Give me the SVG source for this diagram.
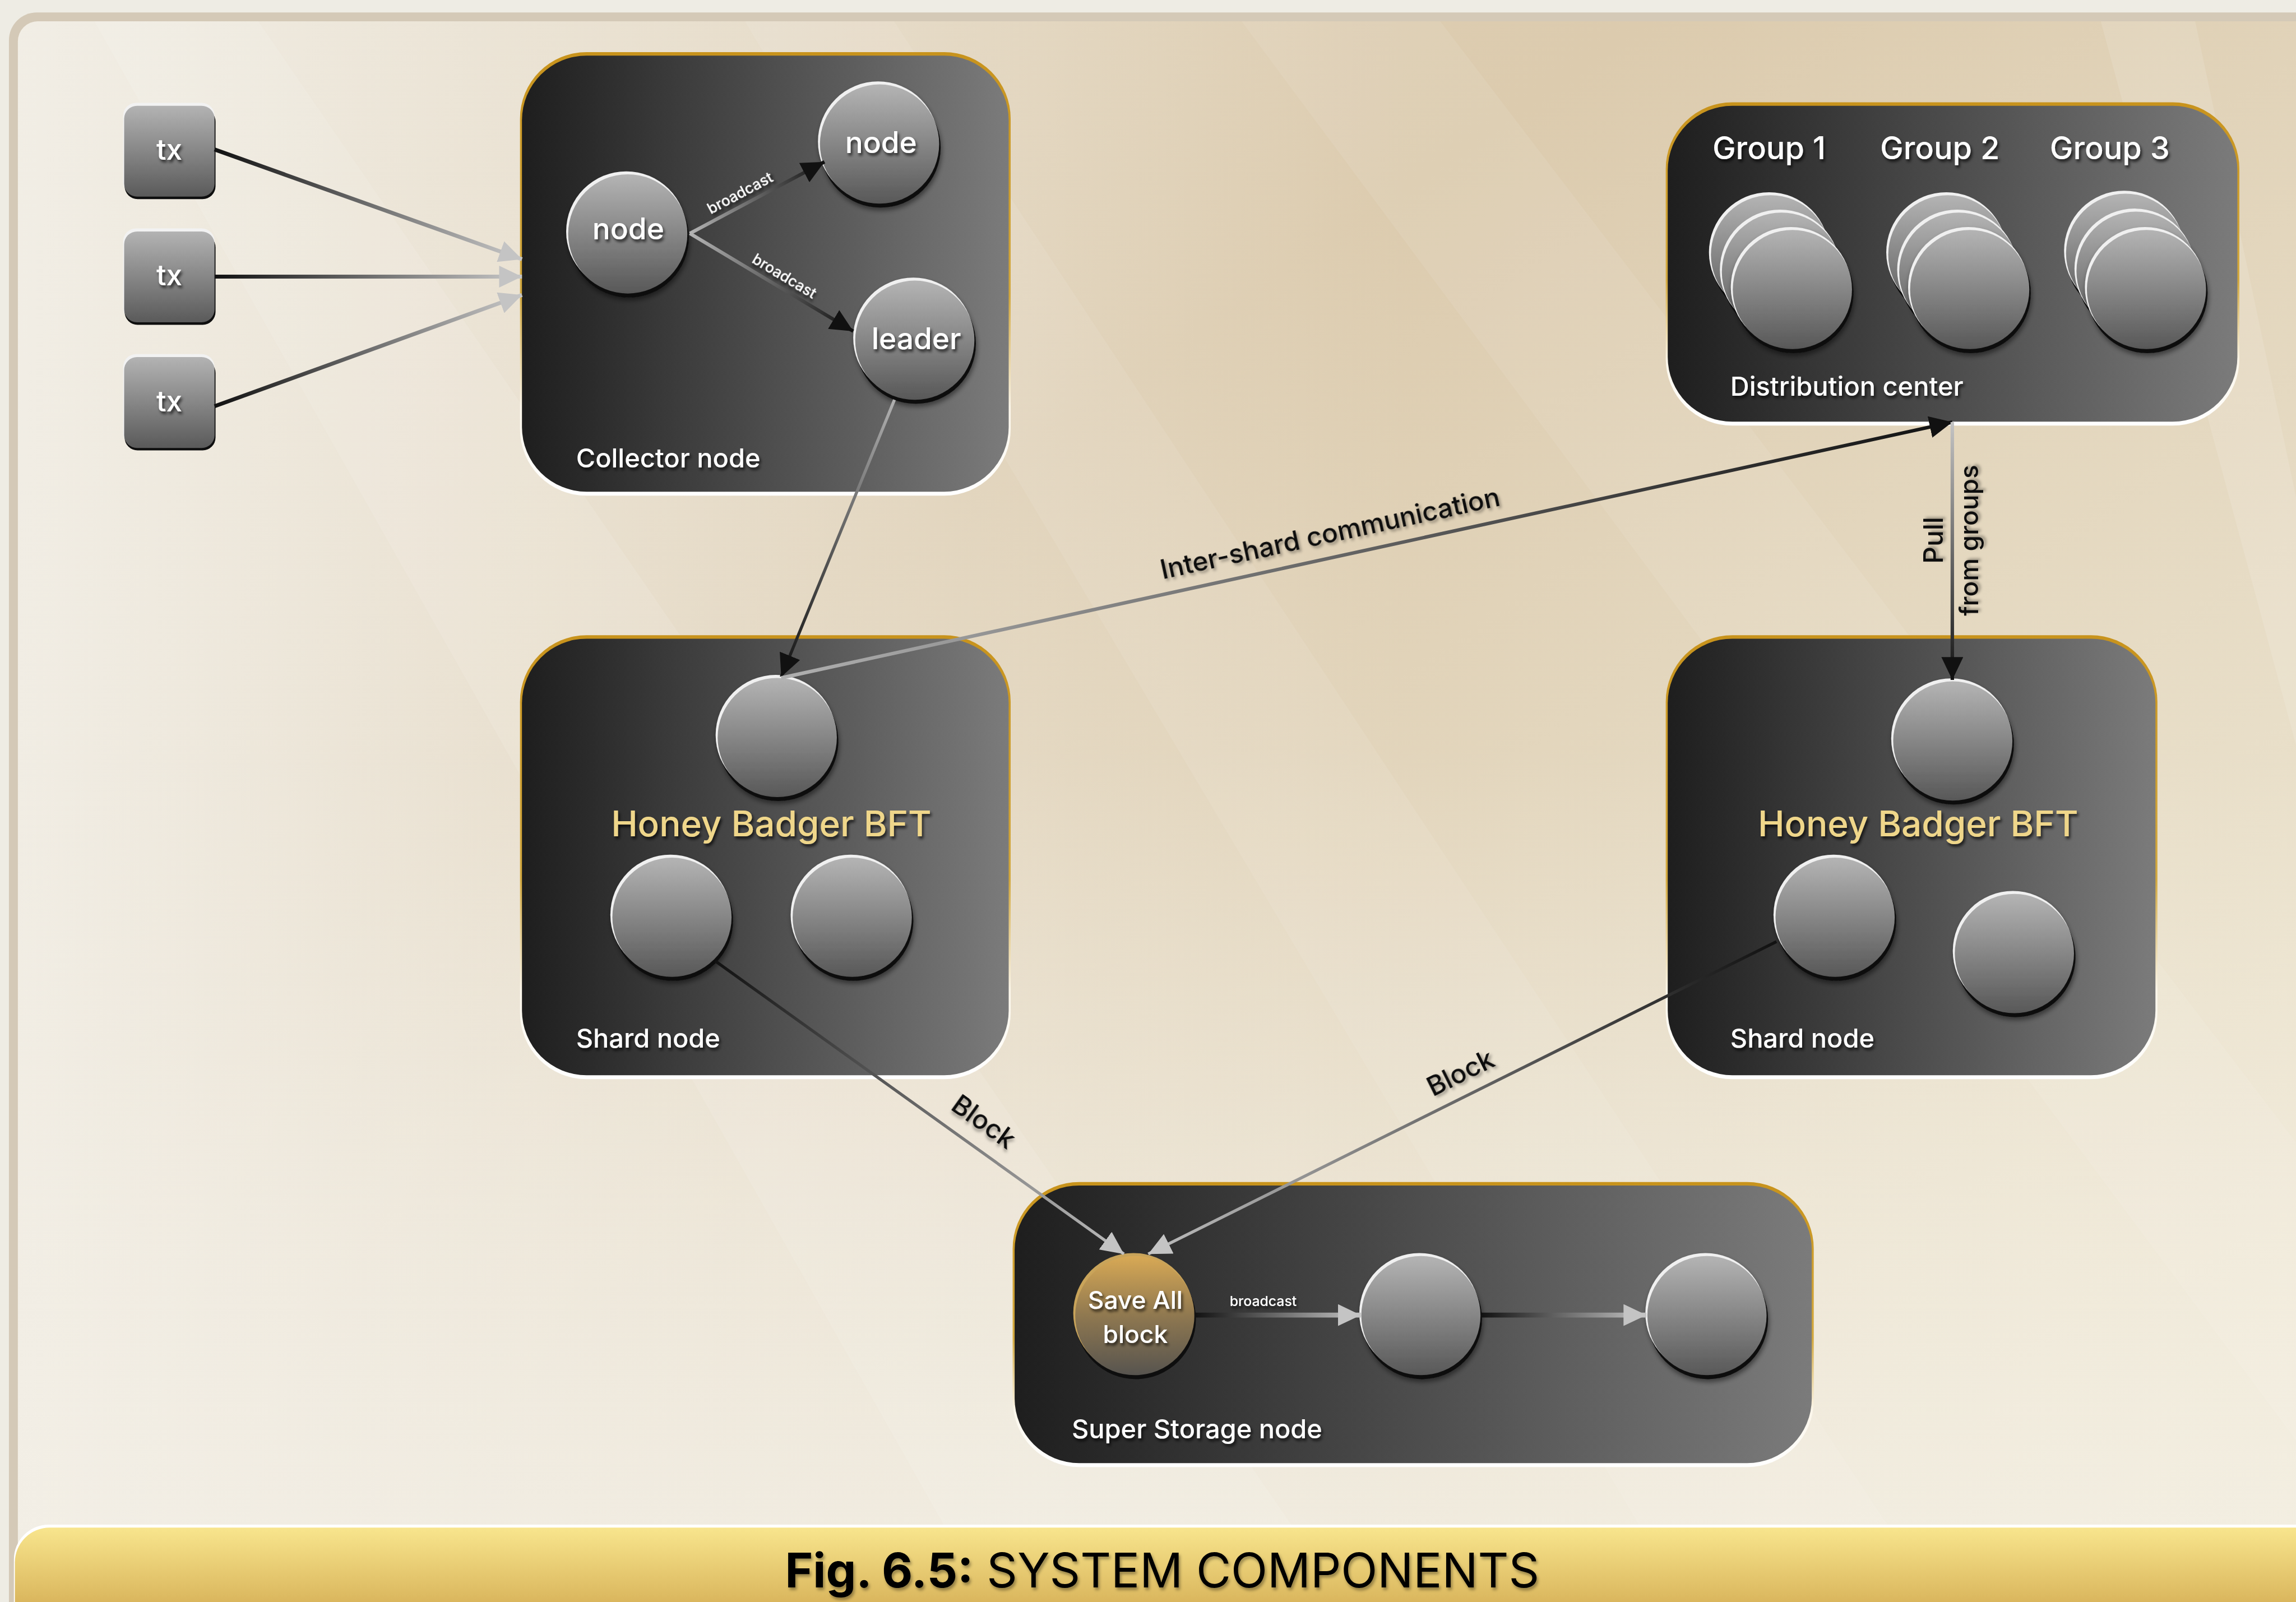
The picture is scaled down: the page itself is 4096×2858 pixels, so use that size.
<svg xmlns="http://www.w3.org/2000/svg" xmlns:xlink="http://www.w3.org/1999/xlink" width="4096" height="2858" viewBox="0 0 4096 2858">
<style>
.lbl{font-family:Inter,"Noto Sans","Liberation Sans",sans-serif;font-weight:500;fill:#fff;filter:url(#ts)}
.dark{font-family:Inter,"Noto Sans","Liberation Sans",sans-serif;font-weight:500;fill:#111;filter:url(#tsl)}
.honey{font-family:Inter,"Noto Sans","Liberation Sans",sans-serif;font-weight:500;fill:#efd68a;filter:url(#ts)}
.cap{font-family:Inter,"Noto Sans","Liberation Sans",sans-serif;fill:#000;filter:url(#tsl)}
.ln{fill:none;stroke-linecap:butt}
</style>
<defs>
<linearGradient id="bgGrad" x1="0" y1="0" x2="1" y2="1">
<stop offset="0" stop-color="#e2d5be"/>
<stop offset="0.35" stop-color="#dccbae"/>
<stop offset="0.7" stop-color="#e8dec8"/>
<stop offset="1" stop-color="#f4eed8"/>
</linearGradient>
<linearGradient id="bgLeft" x1="0" y1="0" x2="1" y2="0">
<stop offset="0" stop-color="#f4f2ec" stop-opacity="0.85"/>
<stop offset="0.35" stop-color="#f4f2ec" stop-opacity="0.35"/>
<stop offset="0.6" stop-color="#f4f2ec" stop-opacity="0"/>
</linearGradient>
<linearGradient id="bgBottom" x1="0" y1="0" x2="0" y2="1">
<stop offset="0" stop-color="#f3efe6" stop-opacity="0"/>
<stop offset="1" stop-color="#f3efe6" stop-opacity="0.7"/>
</linearGradient>
<linearGradient id="boxGrad" x1="0" y1="0" x2="1" y2="0">
<stop offset="0" stop-color="#1e1e1e"/>
<stop offset="1" stop-color="#7b7b7b"/>
</linearGradient>
<linearGradient id="rimGrad" x1="0" y1="0" x2="0" y2="1">
<stop offset="0" stop-color="#c8931c"/>
<stop offset="0.55" stop-color="#d2a83e"/>
<stop offset="0.8" stop-color="#fbf6ea"/>
<stop offset="1" stop-color="#ffffff"/>
</linearGradient>
<linearGradient id="ballGrad" x1="0" y1="0" x2="0" y2="1">
<stop offset="0" stop-color="#b4b4b4"/>
<stop offset="1" stop-color="#585858"/>
</linearGradient>
<linearGradient id="goldGrad" x1="0" y1="0" x2="0" y2="1">
<stop offset="0" stop-color="#d8a955"/>
<stop offset="0.5" stop-color="#8f7850"/>
<stop offset="1" stop-color="#57544f"/>
</linearGradient>
<linearGradient id="txGrad" x1="0" y1="0" x2="0" y2="1">
<stop offset="0" stop-color="#b3b3b3"/>
<stop offset="1" stop-color="#5a5a5a"/>
</linearGradient>
<linearGradient id="capGrad" x1="0" y1="0" x2="0" y2="1">
<stop offset="0" stop-color="#f8e58d"/>
<stop offset="0.45" stop-color="#ddbb62"/>
<stop offset="1" stop-color="#bb8030"/>
</linearGradient>
<filter id="ts" x="-20%" y="-50%" width="140%" height="200%">
<feDropShadow dx="3" dy="5" stdDeviation="3" flood-color="#000" flood-opacity="0.7"/>
</filter>
<filter id="tsl" x="-20%" y="-50%" width="140%" height="200%">
<feDropShadow dx="3" dy="5" stdDeviation="3" flood-color="#000" flood-opacity="0.35"/>
</filter>
<filter id="bs" x="-30%" y="-30%" width="160%" height="160%">
<feDropShadow dx="2" dy="6" stdDeviation="5" flood-color="#000" flood-opacity="0.45"/>
</filter>
<g id="ball">
<circle cx="2" cy="7" r="121" fill="#0e0e0e"/>
<circle cx="-3" cy="-5" r="121" fill="#f0f0f0"/>
<circle r="120" fill="url(#ballGrad)"/>
</g>
<g id="txbox">
<rect x="-2" y="-6" width="184" height="186" rx="26" fill="#f2f2f2"/>
<rect x="1" y="6" width="183" height="182" rx="26" fill="#0e0e0e"/>
<rect x="0" y="0" width="182" height="183" rx="26" fill="url(#txGrad)"/>
</g>
<marker id="ahD" viewBox="0 0 46 44" refX="46" refY="22" markerWidth="46" markerHeight="44" markerUnits="userSpaceOnUse" orient="auto"><path d="M0,0 L46,22 L0,44 z" fill="#111"/></marker>
<marker id="ahL" viewBox="0 0 46 44" refX="46" refY="22" markerWidth="46" markerHeight="44" markerUnits="userSpaceOnUse" orient="auto"><path d="M0,0 L46,22 L0,44 z" fill="#c4c4c4"/></marker>
<linearGradient id="g1" gradientUnits="userSpaceOnUse" x1="432" y1="301" x2="1051" y2="522"><stop offset="0" stop-color="#111"/><stop offset="1" stop-color="#c8c8c8"/></linearGradient>
<linearGradient id="g2" gradientUnits="userSpaceOnUse" x1="432" y1="557" x2="1051" y2="557"><stop offset="0" stop-color="#111"/><stop offset="1" stop-color="#c8c8c8"/></linearGradient>
<linearGradient id="g3" gradientUnits="userSpaceOnUse" x1="432" y1="818" x2="1051" y2="594"><stop offset="0" stop-color="#111"/><stop offset="1" stop-color="#c8c8c8"/></linearGradient>
<linearGradient id="g4" gradientUnits="userSpaceOnUse" x1="1389" y1="470" x2="1660" y2="326"><stop offset="0" stop-color="#b4b4b4"/><stop offset="1" stop-color="#111"/></linearGradient>
<linearGradient id="g5" gradientUnits="userSpaceOnUse" x1="1389" y1="470" x2="1718" y2="667"><stop offset="0" stop-color="#b4b4b4"/><stop offset="1" stop-color="#111"/></linearGradient>
<linearGradient id="g6" gradientUnits="userSpaceOnUse" x1="1801" y1="805" x2="1573" y2="1363"><stop offset="0" stop-color="#b0b0b0"/><stop offset="1" stop-color="#111"/></linearGradient>
<linearGradient id="g7" gradientUnits="userSpaceOnUse" x1="1573" y1="1365" x2="3931" y2="850"><stop offset="0" stop-color="#b0b0b0"/><stop offset="1" stop-color="#111"/></linearGradient>
<linearGradient id="g8" gradientUnits="userSpaceOnUse" x1="3931" y1="850" x2="3931" y2="1369"><stop offset="0" stop-color="#c4c4c4"/><stop offset="1" stop-color="#111"/></linearGradient>
<linearGradient id="g9" gradientUnits="userSpaceOnUse" x1="1440" y1="1935" x2="2263" y2="2525"><stop offset="0" stop-color="#111"/><stop offset="1" stop-color="#bdbdbd"/></linearGradient>
<linearGradient id="g10" gradientUnits="userSpaceOnUse" x1="3577" y1="1896" x2="2312" y2="2525"><stop offset="0" stop-color="#111"/><stop offset="1" stop-color="#bdbdbd"/></linearGradient>
<linearGradient id="g11" gradientUnits="userSpaceOnUse" x1="2405" y1="2648" x2="2740" y2="2648"><stop offset="0" stop-color="#111"/><stop offset="1" stop-color="#c4c4c4"/></linearGradient>
<linearGradient id="g12" gradientUnits="userSpaceOnUse" x1="2982" y1="2648" x2="3315" y2="2648"><stop offset="0" stop-color="#111"/><stop offset="1" stop-color="#c4c4c4"/></linearGradient>
</defs>
<g transform="scale(0.886)">
<!-- background -->
<g id="background">
<rect x="0" y="0" width="4623" height="3226" fill="#eeece4"/>
<rect x="18" y="25" width="4700" height="3300" rx="56" fill="#d4c9b7"/>
<rect x="36" y="43" width="4680" height="3260" rx="40" fill="url(#bgGrad)"/>
<rect x="36" y="43" width="4680" height="3260" rx="40" fill="url(#bgLeft)"/>
<rect x="36" y="1500" width="4680" height="1580" fill="url(#bgBottom)"/>
<path d="M190,43 L520,43 L2600,3070 L1900,3070 Z" fill="#fff" opacity="0.10"/>
<path d="M1500,43 L1800,43 L3800,3070 L3300,3070 Z" fill="#fff" opacity="0.08"/>
<path d="M2500,43 L2900,43 L4623,2300 L4623,2900 Z" fill="#fff" opacity="0.08"/>
<path d="M4230,43 L4420,43 L4623,1000 L4623,1500 Z" fill="#fff" opacity="0.12"/>
</g>
<!-- caption -->
<g id="caption">
<rect x="28" y="3070" width="4700" height="300" rx="70" fill="#ffffff"/>
<rect x="30" y="3076" width="4700" height="300" rx="70" fill="url(#capGrad)"/>
<text class="cap" x="2340" y="3196" font-size="96" text-anchor="middle"><tspan font-weight="700">Fig. 6.5:</tspan><tspan font-weight="400"> SYSTEM COMPONENTS</tspan></text>
</g>
<!-- tx nodes -->
<g id="tx1"><use href="#txbox" x="250" y="213"/><text class="lbl" x="341" y="322" font-size="58" text-anchor="middle">tx</text></g>
<g id="tx2"><use href="#txbox" x="250" y="466"/><text class="lbl" x="341" y="575" font-size="58" text-anchor="middle">tx</text></g>
<g id="tx3"><use href="#txbox" x="250" y="719"/><text class="lbl" x="341" y="828" font-size="58" text-anchor="middle">tx</text></g>
<!-- collector node -->
<g id="collector">
<rect x="1047" y="105" width="988" height="893" rx="134" fill="url(#rimGrad)"/>
<rect x="1051" y="112" width="980" height="878" rx="130" fill="url(#boxGrad)"/>
<text class="lbl" x="1160" y="941" font-size="53">Collector node</text>
</g>
<g id="collector-node1"><use href="#ball" x="1264" y="471" filter="url(#bs)"/><text class="lbl" x="1265" y="482" font-size="60" text-anchor="middle">node</text></g>
<g id="collector-node2"><use href="#ball" x="1771" y="290" filter="url(#bs)"/><text class="lbl" x="1774" y="308" font-size="60" text-anchor="middle">node</text></g>
<g id="leader"><use href="#ball" x="1842" y="685" filter="url(#bs)"/><text class="lbl" x="1845" y="703" font-size="60" text-anchor="middle">leader</text></g>
<!-- distribution center -->
<g id="distribution">
<rect x="3354" y="206" width="1155" height="651" rx="134" fill="url(#rimGrad)"/>
<rect x="3358" y="213" width="1147" height="636" rx="130" fill="url(#boxGrad)"/>
<text class="lbl" x="3562" y="321" font-size="63" text-anchor="middle">Group 1</text>
<text class="lbl" x="3906" y="321" font-size="63" text-anchor="middle">Group 2</text>
<text class="lbl" x="4248" y="321" font-size="63" text-anchor="middle">Group 3</text>
<text class="lbl" x="3484" y="797" font-size="53">Distribution center</text>
</g>
<g id="group1">
<use href="#ball" x="3565" y="513"/><use href="#ball" x="3587" y="548"/><use href="#ball" x="3609" y="583" filter="url(#bs)"/>
</g>
<g id="group2">
<use href="#ball" x="3922" y="513"/><use href="#ball" x="3944" y="548"/><use href="#ball" x="3966" y="583" filter="url(#bs)"/>
</g>
<g id="group3">
<use href="#ball" x="4280" y="510"/><use href="#ball" x="4301" y="546"/><use href="#ball" x="4322" y="583" filter="url(#bs)"/>
</g>
<!-- shard node 1 -->
<g id="shard1">
<rect x="1047" y="1279" width="988" height="894" rx="134" fill="url(#rimGrad)"/>
<rect x="1051" y="1286" width="980" height="879" rx="130" fill="url(#boxGrad)"/>
<text class="honey" x="1553" y="1684" font-size="72" text-anchor="middle">Honey Badger BFT</text>
<text class="lbl" x="1160" y="2109" font-size="53">Shard node</text>
</g>
<g id="shard1-top"><use href="#ball" x="1565" y="1485" filter="url(#bs)"/></g>
<g id="shard1-left"><use href="#ball" x="1353" y="1847" filter="url(#bs)"/></g>
<g id="shard1-right"><use href="#ball" x="1716" y="1847" filter="url(#bs)"/></g>
<!-- shard node 2 -->
<g id="shard2">
<rect x="3354" y="1279" width="990" height="894" rx="134" fill="url(#rimGrad)"/>
<rect x="3358" y="1286" width="982" height="879" rx="130" fill="url(#boxGrad)"/>
<text class="honey" x="3862" y="1684" font-size="72" text-anchor="middle">Honey Badger BFT</text>
<text class="lbl" x="3484" y="2109" font-size="53">Shard node</text>
</g>
<g id="shard2-top"><use href="#ball" x="3932" y="1492" filter="url(#bs)"/></g>
<g id="shard2-left"><use href="#ball" x="3695" y="1847" filter="url(#bs)"/></g>
<g id="shard2-right"><use href="#ball" x="4056" y="1920" filter="url(#bs)"/></g>
<!-- super storage node -->
<g id="storage">
<rect x="2039" y="2380" width="1613" height="574" rx="134" fill="url(#rimGrad)"/>
<rect x="2043" y="2387" width="1605" height="559" rx="130" fill="url(#boxGrad)"/>
<text class="lbl" x="2158" y="2896" font-size="53">Super Storage node</text>
</g>
<g id="save-all">
<circle cx="2287" cy="2656" r="121" fill="#0e0e0e"/>
<circle cx="2282" cy="2644" r="121" fill="#c9a45a"/>
<circle cx="2285" cy="2649" r="120" fill="url(#goldGrad)"/>
<text class="lbl" x="2286" y="2635" font-size="50" text-anchor="middle">Save All</text>
<text class="lbl" x="2286" y="2704" font-size="50" text-anchor="middle">block</text>
</g>
<g id="storage-node2"><use href="#ball" x="2861" y="2649" filter="url(#bs)"/></g>
<g id="storage-node3"><use href="#ball" x="3437" y="2649" filter="url(#bs)"/></g>
<!-- connectors -->
<g id="connectors">
<line class="ln" x1="432" y1="301" x2="1051" y2="522" stroke="url(#g1)" stroke-width="8" marker-end="url(#ahL)"/>
<line class="ln" x1="432" y1="557" x2="1051" y2="557" stroke="url(#g2)" stroke-width="8" marker-end="url(#ahL)"/>
<line class="ln" x1="432" y1="818" x2="1051" y2="594" stroke="url(#g3)" stroke-width="8" marker-end="url(#ahL)"/>
<line class="ln" x1="1389" y1="470" x2="1660" y2="326" stroke="url(#g4)" stroke-width="7" marker-end="url(#ahD)"/>
<line class="ln" x1="1389" y1="470" x2="1718" y2="667" stroke="url(#g5)" stroke-width="7" marker-end="url(#ahD)"/>
<text class="lbl" font-size="30" text-anchor="middle" transform="translate(1495,398) rotate(-28)">broadcast</text>
<text class="lbl" font-size="30" text-anchor="middle" transform="translate(1574,565) rotate(31)">broadcast</text>
<line class="ln" x1="1801" y1="805" x2="1573" y2="1363" stroke="url(#g6)" stroke-width="6" marker-end="url(#ahD)"/>
<line class="ln" x1="1573" y1="1365" x2="3931" y2="850" stroke="url(#g7)" stroke-width="7" marker-end="url(#ahD)"/>
<text class="dark" font-size="54" text-anchor="middle" transform="translate(2682,1092) rotate(-12.3)">Inter-shard communication</text>
<line class="ln" x1="3931" y1="850" x2="3931" y2="1369" stroke="url(#g8)" stroke-width="7" marker-end="url(#ahD)"/>
<text class="dark" font-size="54" text-anchor="middle" transform="translate(3912,1088) rotate(-90)">Pull</text>
<text class="dark" font-size="52" text-anchor="middle" transform="translate(3983,1088) rotate(-90)">from groups</text>
<line class="ln" x1="1440" y1="1935" x2="2263" y2="2525" stroke="url(#g9)" stroke-width="6" marker-end="url(#ahL)"/>
<text class="dark" font-size="54" text-anchor="middle" transform="translate(1970,2274) rotate(35.6)">Block</text>
<line class="ln" x1="3577" y1="1896" x2="2312" y2="2525" stroke="url(#g10)" stroke-width="6" marker-end="url(#ahL)"/>
<text class="dark" font-size="54" text-anchor="middle" transform="translate(2949,2177) rotate(-26.4)">Block</text>
<line class="ln" x1="2405" y1="2648" x2="2740" y2="2648" stroke="url(#g11)" stroke-width="10" marker-end="url(#ahL)"/>
<text class="lbl" x="2476" y="2630" font-size="28">broadcast</text>
<line class="ln" x1="2982" y1="2648" x2="3315" y2="2648" stroke="url(#g12)" stroke-width="10" marker-end="url(#ahL)"/>
</g>
</g>
</svg>
